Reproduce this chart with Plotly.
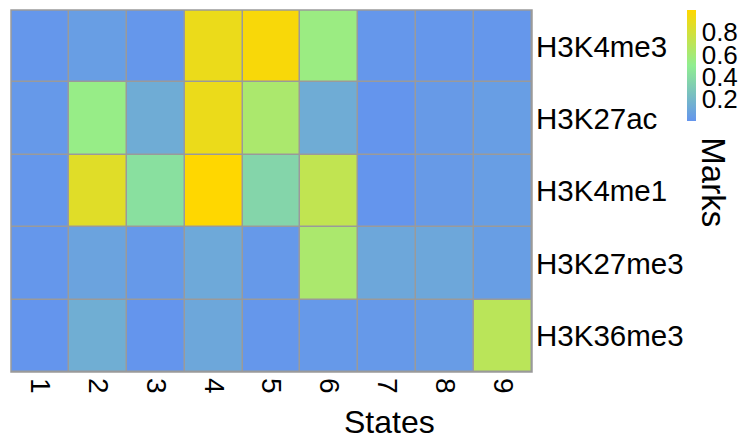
import plotly.graph_objects as go

# Chromatin-state emission heatmap: histone marks (rows) by states (columns)
states = ["1", "2", "3", "4", "5", "6", "7", "8", "9"]
marks = ["H3K4me3", "H3K27ac", "H3K4me1", "H3K27me3", "H3K36me3"]

h3k4me3 = [0.01, 0.05, 0.01, 0.91, 0.97, 0.55, 0.01, 0.01, 0.01]
h3k27ac = [0.02, 0.53, 0.13, 0.91, 0.62, 0.13, 0.00, 0.03, 0.05]
h3k4me1 = [0.01, 0.86, 0.42, 1.00, 0.36, 0.72, 0.00, 0.03, 0.05]
h3k27me3 = [0.01, 0.08, 0.02, 0.11, 0.02, 0.62, 0.10, 0.10, 0.05]
h3k36me3 = [0.00, 0.14, 0.00, 0.10, 0.01, 0.02, 0.02, 0.04, 0.69]

z = [h3k4me3, h3k27ac, h3k4me1, h3k27me3, h3k36me3]

colorscale = [[0.0, "#6495ED"], [0.5, "#90EE90"], [1.0, "#FFD700"]]

W, H = 741, 441
ml, mr, mt, mb = 11, 208, 10, 69
plot_w = W - ml - mr
plot_h = H - mt - mb

font_family = "Liberation Sans, Arial, sans-serif"
grid_gray = "#9A9A9A"

fig = go.Figure(
    go.Heatmap(
        z=z,
        x=states,
        y=marks,
        colorscale=colorscale,
        xgap=1.5,
        ygap=1.5,
        colorbar=dict(
            x=(687 - ml) / plot_w,
            xanchor="left",
            xpad=0,
            y=1.0,
            yanchor="top",
            ypad=0,
            len=111,
            lenmode="pixels",
            thickness=9,
            outlinewidth=0,
            tickvals=[0.2, 0.4, 0.6, 0.8],
            ticktext=["0.2", "0.4", "0.6", "0.8"],
            ticks="",
            tickfont=dict(size=26, color="#000000", family=font_family),
        ),
    )
)

fig.update_layout(
    width=W,
    height=H,
    margin=dict(l=ml, r=mr, t=mt, b=mb),
    paper_bgcolor="white",
    plot_bgcolor=grid_gray,
    font=dict(family=font_family, color="#000000"),
    xaxis=dict(
        tickangle=90,
        tickfont=dict(size=28),
        showgrid=False,
        zeroline=False,
        ticks="",
        ticklabelstandoff=5,
    ),
    yaxis=dict(
        side="right",
        autorange="reversed",
        tickfont=dict(size=29.5),
        showgrid=False,
        zeroline=False,
        ticks="",
        ticklabelstandoff=3,
    ),
    shapes=[
        dict(
            type="rect",
            xref="paper",
            yref="paper",
            x0=0,
            x1=1,
            y0=0,
            y1=1,
            line=dict(color=grid_gray, width=1.5),
        )
    ],
    annotations=[
        dict(
            text="States",
            xref="paper",
            yref="paper",
            x=(390.5 - ml) / plot_w,
            y=-(422 - (mt + plot_h)) / plot_h,
            xanchor="center",
            yanchor="middle",
            showarrow=False,
            font=dict(size=32),
        ),
        dict(
            text="Marks",
            xref="paper",
            yref="paper",
            x=(715 - ml) / plot_w,
            y=1 - (182 - mt) / plot_h,
            xanchor="center",
            yanchor="middle",
            textangle=90,
            showarrow=False,
            font=dict(size=33),
        ),
    ],
)

fig.write_html("out.html")
